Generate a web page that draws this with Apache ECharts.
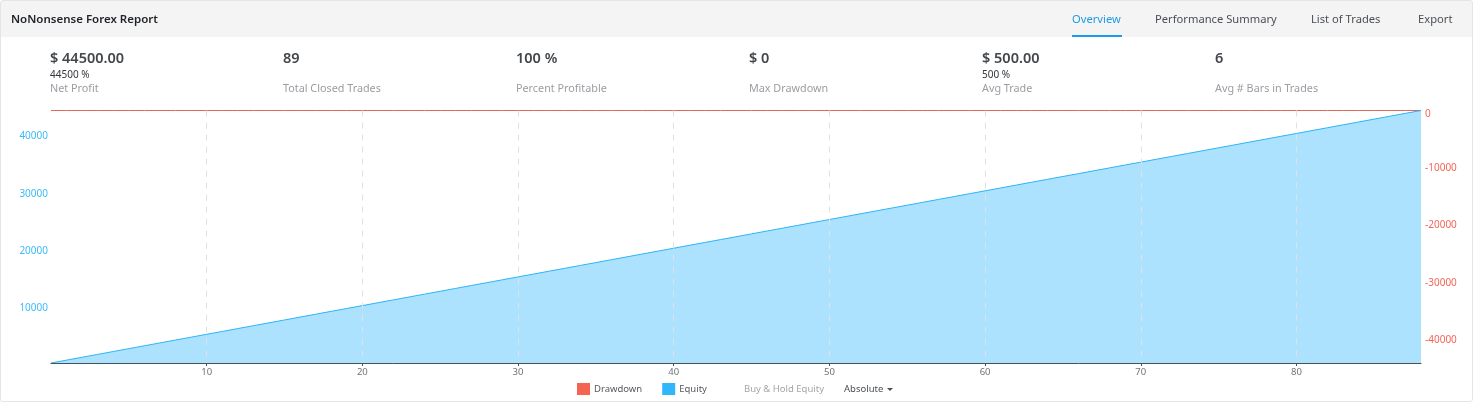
<!DOCTYPE html>
<html>
<head>
<meta charset="utf-8">
<title>NoNonsense Forex Report</title>
<script src="https://cdn.jsdelivr.net/npm/echarts@6/dist/echarts.min.js"></script>
<style>
    html, body { margin: 0; padding: 0; background: #fff; }
    body { width: 1473px; height: 402px; overflow: hidden; font-family: "Noto Sans", sans-serif; position: relative; }
    #frame { position: absolute; left: 0; top: 0; width: 1471px; height: 400px; border: 1px solid #e3e6e9; border-radius: 3px; }
    #head { position: absolute; left: 1px; top: 1px; width: 1471px; height: 36px; background: #f4f4f4; }
    #chart { position: absolute; left: 0; top: 0; width: 1473px; height: 402px; }
    .t { position: absolute; white-space: nowrap; }
    .title { left: 11px; top: 10px; font-size: 11.5px; line-height: 17px; font-weight: 600; color: #1f2226; }
    .tab { top: 10px; font-size: 11.2px; line-height: 17px; color: #4a4f55; }
    .tab.on { color: #1c9be6; }
    #bar { position: absolute; left: 1072px; top: 35px; width: 50px; height: 2px; background: #1c9be6; }
    .big { top: 48px; font-size: 14.5px; line-height: 19px; font-weight: 600; color: #43474c; }
    .sub { top: 68px; font-size: 10px; line-height: 13px; color: #33373b; }
    .lab { top: 80px; font-size: 10.8px; line-height: 15px; color: #9a9da1; }
    .small { top: 382px; font-size: 9.5px; line-height: 14px; }
    #caret { position: absolute; left: 887px; top: 388px; width: 0; height: 0; border-left: 3px solid transparent; border-right: 3px solid transparent; border-top: 3px solid #4a4f55; }
</style>
</head>
<body>
<div id="head"></div>
<div id="bar"></div>
<div id="chart"></div>
<div id="frame"></div>
<div id="texts"></div>
<div id="caret"></div>
<script>
    var report_title = 'NoNonsense Forex Report';
    var tab_names = ['Overview', 'Performance Summary', 'List of Trades', 'Export'];
    var tab_left = [1072, 1155, 1311, 1418];
    var stat_left = [50, 283, 516, 749, 982, 1215];
    var stat_values = ['$ 44500.00', '89', '100 %', '$ 0', '$ 500.00', '6'];
    var stat_percent = ['44500 %', '', '', '', '500 %', ''];
    var stat_labels = ['Net Profit', 'Total Closed Trades', 'Percent Profitable', 'Max Drawdown', 'Avg Trade', 'Avg # Bars in Trades'];

    var x_ticks = [10, 20, 30, 40, 50, 60, 70, 80];
    var equity_ticks = [10000, 20000, 30000, 40000];
    var drawdown_ticks = [0, -10000, -20000, -30000, -40000];

    var equity = [500, 1000, 1500, 2000, 2500, 3000, 3500, 4000, 4500, 5000,
        5500, 6000, 6500, 7000, 7500, 8000, 8500, 9000, 9500, 10000,
        10500, 11000, 11500, 12000, 12500, 13000, 13500, 14000, 14500, 15000,
        15500, 16000, 16500, 17000, 17500, 18000, 18500, 19000, 19500, 20000,
        20500, 21000, 21500, 22000, 22500, 23000, 23500, 24000, 24500, 25000,
        25500, 26000, 26500, 27000, 27500, 28000, 28500, 29000, 29500, 30000,
        30500, 31000, 31500, 32000, 32500, 33000, 33500, 34000, 34500, 35000,
        35500, 36000, 36500, 37000, 37500, 38000, 38500, 39000, 39500, 40000,
        40500, 41000, 41500, 42000, 42500, 43000, 43500, 44000, 44500];
    var drawdown = [0, 0, 0, 0, 0, 0, 0, 0, 0, 0,
        0, 0, 0, 0, 0, 0, 0, 0, 0, 0,
        0, 0, 0, 0, 0, 0, 0, 0, 0, 0,
        0, 0, 0, 0, 0, 0, 0, 0, 0, 0,
        0, 0, 0, 0, 0, 0, 0, 0, 0, 0,
        0, 0, 0, 0, 0, 0, 0, 0, 0, 0,
        0, 0, 0, 0, 0, 0, 0, 0, 0, 0,
        0, 0, 0, 0, 0, 0, 0, 0, 0, 0,
        0, 0, 0, 0, 0, 0, 0, 0, 0];

    function add_text(cls, left, text, color) {
        var el = document.createElement('div');
        el.className = 't ' + cls;
        el.style.left = left + 'px';
        if (color) { el.style.color = color; }
        el.textContent = text;
        document.getElementById('texts').appendChild(el);
    }

    add_text('title', 11, report_title);
    for (var i = 0; i < tab_names.length; i++) {
        add_text(i == 0 ? 'tab on' : 'tab', tab_left[i], tab_names[i]);
    }
    for (var i = 0; i < stat_left.length; i++) {
        add_text('big', stat_left[i], stat_values[i]);
        if (stat_percent[i]) { add_text('sub', stat_left[i], stat_percent[i]); }
        add_text('lab', stat_left[i], stat_labels[i]);
    }
    add_text('small', 744, 'Buy & Hold Equity', '#a3a6a9');
    add_text('small', 844, 'Absolute', '#4a4f55');

    var pairs_equity = equity.map(function (v, i) { return [i, v]; });
    var pairs_drawdown = drawdown.map(function (v, i) { return [i, v]; });

    var myChart = echarts.init(document.getElementById('chart'), null, { renderer: 'canvas' });
    myChart.setOption({
        animation: false,
        textStyle: { fontFamily: '"Noto Sans", sans-serif' },
        // half pixel on top keeps the 1px drawdown line on one pixel row
        grid: { left: 51, right: 52, top: 110.5, bottom: 39, containLabel: false },
        legend: {
            left: 577, top: 383, padding: 0,
            itemWidth: 13, itemHeight: 12, itemGap: 20,
            icon: 'rect',
            selectedMode: false,
            textStyle: { color: '#55595e', fontSize: 9.5, padding: [0, 0, 0, -1] },
            data: ['Drawdown', 'Equity']
        },
        xAxis: {
            type: 'value', min: 0, max: 88, z: 10,
            axisLine: { show: true, onZero: false, lineStyle: { color: '#4a5058', width: 1 } },
            axisTick: { show: true, length: 3, customValues: x_ticks, lineStyle: { color: '#4a5058' } },
            axisLabel: { customValues: x_ticks, color: '#6f7479', fontSize: 9.5, margin: 4 },
            splitLine: { show: true, lineStyle: { color: '#dfe1e4', type: [6, 6], width: 1 } }
        },
        yAxis: [{
            type: 'value', position: 'left', min: 500, max: 44500,
            axisLine: { show: false }, axisTick: { show: false }, splitLine: { show: false },
            axisLabel: {
                customValues: equity_ticks, color: '#3dbbf7', fontSize: 10, margin: 3,
                formatter: function (value) { return String(value); }
            }
        }, {
            type: 'value', position: 'right', min: -44000, max: 0,
            axisLine: { show: false }, axisTick: { show: false }, splitLine: { show: false },
            axisLabel: {
                customValues: drawdown_ticks, color: '#f4665a', fontSize: 10, margin: 4,
                // the 0 sits on the top edge, so it is pushed down inside the plot
                formatter: function (value) { return value == 0 ? '{zero|0}' : String(value); },
                rich: { zero: { color: '#f4665a', fontSize: 10, padding: [7, 0, 0, 0] } }
            }
        }],
        series: [{
            name: 'Drawdown', type: 'line', yAxisIndex: 1, data: pairs_drawdown,
            showSymbol: false, silent: true, z: 3,
            itemStyle: { color: '#f56453' },
            lineStyle: { color: '#e0675a', width: 1 }
        }, {
            name: 'Equity', type: 'line', yAxisIndex: 0, data: pairs_equity,
            showSymbol: false, silent: true, z: 4,
            itemStyle: { color: '#2fb6fb' },
            lineStyle: { color: '#2bb4f6', width: 1 },
            areaStyle: { color: '#33b7ff', opacity: 0.4 }
        }]
    });
</script>
</body>
</html>
